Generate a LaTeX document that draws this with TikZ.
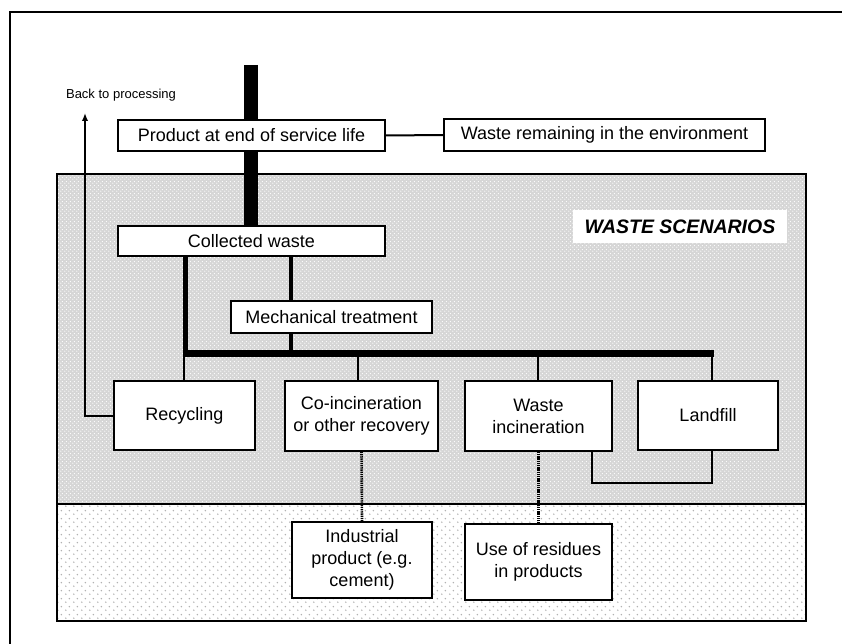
\documentclass[tikz,border=0pt]{standalone}
\usepackage{fontspec}
\setmainfont{Liberation Sans}
\usetikzlibrary{patterns.meta,arrows.meta}

% staggered dot textures for the two scenario bands
\tikzdeclarepattern{name=finedots, type=uncolored,
  bottom left={(0pt,0pt)}, top right={(4pt,4pt)}, tile size={(4pt,4pt)},
  code={\fill (1pt,1pt) circle (0.7pt); \fill (3pt,3pt) circle (0.7pt);}}
\tikzdeclarepattern{name=sparsedots, type=uncolored,
  bottom left={(0pt,0pt)}, top right={(8pt,8pt)}, tile size={(8pt,8pt)},
  code={\fill (2pt,2pt) circle (0.9pt); \fill (6pt,6pt) circle (0.9pt);}}

\begin{document}
\begin{tikzpicture}[x=1pt,y=-1pt,
  box/.style={draw, line width=1.7pt, fill=white, inner sep=0pt, align=center,
    font=\fontsize{18}{22}\selectfont},
  link/.style={line width=2pt},
  trunk/.style={line width=14pt},
  feeder/.style={line width=5pt},
  dotlink/.style={line width=2.6pt, dash pattern=on 1.3pt off 0.9pt},
  band/.style={line width=1.7pt}]

\useasboundingbox (0,0) rectangle (842,644);

% outer frame, running off the page to the right and below
\draw[line width=2.5pt] (10,644) -- (10,12) -- (842,12);

% scenario bands
\fill[gray!32] (57,174) rectangle (806,504);
\fill[pattern=finedots, pattern color=white] (57,174) rectangle (806,504);
\fill[pattern=sparsedots, pattern color=gray!60] (57,504) rectangle (806,621);
\draw[band] (57,504) rectangle (806,621);
\draw[band] (57,174) rectangle (806,504);

\node[fill=white, inner sep=0pt, minimum width=214pt, minimum height=33pt,
  font=\bfseries\itshape\fontsize{19.5}{22}\selectfont] (ws) at (680,226.5) {WASTE SCENARIOS};

% boxes
\node[box, minimum width=267pt, minimum height=31pt] (prod) at (251.5,135.5) {Product at end of service life};
\node[box, minimum width=321pt, minimum height=32pt] (env) at (604.5,135) {Waste remaining in the environment};
\node[box, minimum width=267pt, minimum height=30pt] (coll) at (251.5,241) {Collected waste};
\node[box, minimum width=201pt, minimum height=32pt] (mech) at (331.5,317) {Mechanical treatment};
\node[box, minimum width=141pt, minimum height=69pt] (rec) at (184.5,415.5) {Recycling};
\node[box, minimum width=153pt, minimum height=70pt] (coinc) at (361.5,416) {Co-incineration\\or other recovery};
\node[box, minimum width=147pt, minimum height=70pt] (inc) at (538.5,416) {Waste\\incineration};
\node[box, minimum width=140pt, minimum height=69pt] (land) at (708,415.5) {Landfill};
\node[box, minimum width=140pt, minimum height=76pt] (ind) at (362,560) {Industrial\\product (e.g.\\cement)};
\node[box, minimum width=147pt, minimum height=76pt] (use) at (538.5,562) {Use of residues\\in products};

\node[inner sep=0pt, font=\fontsize{13}{15}\selectfont] (back) at (121,95) {Back to processing};

% main flow
\coordinate (feed) at (251,65);
\draw[trunk] (feed) -- (feed |- prod.north);
\draw[trunk] (prod.south -| feed) -- (coll.north -| feed);
\draw[link] (prod.east) -- (env.west);

\coordinate (busL) at (182.5,353);
\coordinate (busR) at (714,353);
\coordinate (colldrop) at (185,353);
\coordinate (mechdrop) at (291,353);
\draw[line width=7pt] (busL) -- (busR);
\draw[feeder] (coll.south -| colldrop) -- (colldrop);
\draw[line width=4pt] (coll.south -| mechdrop) -- (mech.north -| mechdrop);
\draw[line width=4pt] (mech.south -| mechdrop) -- (mechdrop);

% branches to the scenarios
\coordinate (brRec) at (184,353);
\coordinate (brCo) at (358,353);
\coordinate (brInc) at (538,353);
\coordinate (brLand) at (712,353);
\draw[link] (brRec) -- (rec.north -| brRec);
\draw[link] (brCo) -- (coinc.north -| brCo);
\draw[link] (brInc) -- (inc.north -| brInc);
\draw[link] (brLand) -- (land.north -| brLand);

% incineration residues to landfill
\coordinate (loopL) at (592,483);
\coordinate (loopR) at (712,483);
\draw[link] (inc.south -| loopL) -- (loopL) -- (loopR) -- (land.south -| loopR);

% recycling loop back
\coordinate (tip) at (85,113);
\draw[link, -{Latex[length=8pt,width=6.5pt]}] (rec.west) -- (rec.west -| tip) -- (tip);

% secondary products
\draw[dotlink] (coinc.south) -- (ind.north);
\draw[dotlink] (inc.south) -- (use.north);
\end{tikzpicture}
\end{document}
